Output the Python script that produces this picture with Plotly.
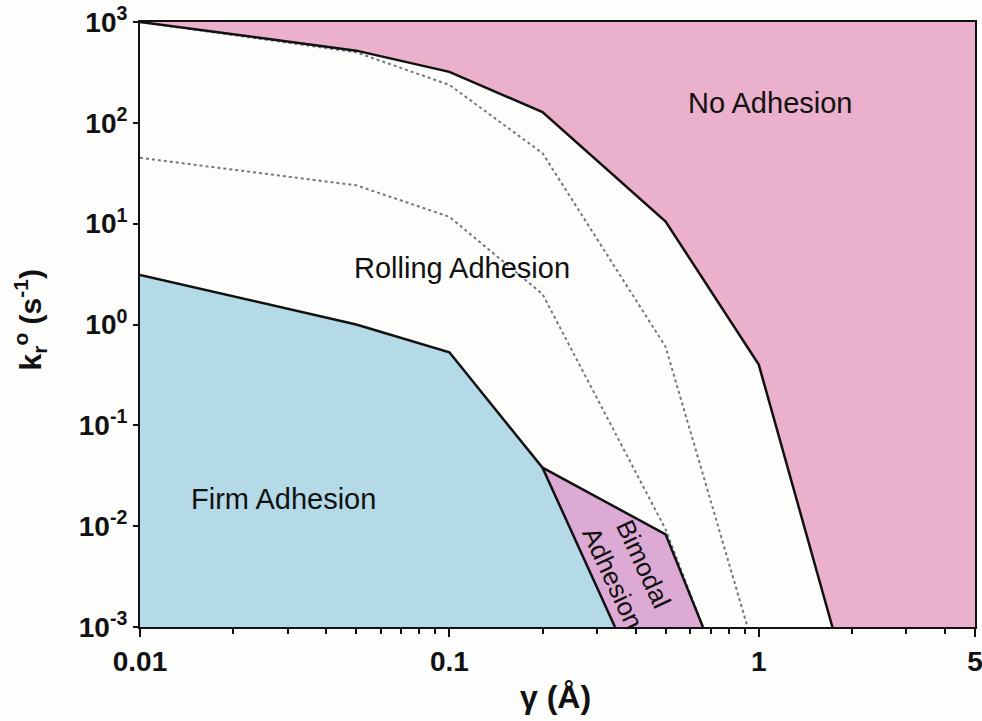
import numpy as np
import plotly.graph_objects as go

# Phase boundaries of the adhesion state diagram (gamma in Angstrom, kr0 in 1/s)
no_adh_gamma = [0.01, 0.05, 0.1, 0.2, 0.5, 1.0, 1.73]
no_adh_kr = [1000, 520, 320, 128, 10.5, 0.4, 0.001]

firm_gamma = [0.01, 0.05, 0.1, 0.2, 0.343]
firm_kr = [3.1, 1.0, 0.53, 0.038, 0.001]

bimodal_gamma = [0.2, 0.5, 0.66]
bimodal_kr = [0.038, 0.0083, 0.001]

dotted_a_gamma = [0.01, 0.05, 0.1, 0.2, 0.5, 0.92]
dotted_a_kr = [1000, 500, 238, 50, 0.6, 0.001]

dotted_b_gamma = [0.01, 0.05, 0.1, 0.2, 0.5, 0.66]
dotted_b_kr = [45, 24, 11.7, 2.0, 0.0093, 0.001]

x_range = (0.01, 5)
y_range = (1e-3, 1e3)

x_tick_vals = [0.01, 0.1, 1, 5]
x_tick_text = ["0.01", "0.1", "1", "5"]
x_minor_vals = [v * d for d in (0.01, 0.1, 1) for v in range(2, 10) if v * d < 5]
y_tick_vals = [1e-3, 1e-2, 1e-1, 1e0, 1e1, 1e2, 1e3]
y_tick_text = ["10<sup>-3</sup>", "10<sup>-2</sup>", "10<sup>-1</sup>", "10<sup>0</sup>",
               "10<sup>1</sup>", "10<sup>2</sup>", "10<sup>3</sup>"]

# Region label positions (gamma, kr0)
label_pos = {
    "No Adhesion": (1.09, 158),
    "Rolling Adhesion": (0.11, 3.66),
    "Firm Adhesion": (0.029, 0.0185),
    "Bimodal<br>Adhesion": (0.378, 0.0036),
}

PINK = "#EAB0CC"
BLUE = "#B3DAE6"
PURPLE = "#DDAAD5"
FONT = "Liberation Sans, Arial, sans-serif"

fig = go.Figure()

# No Adhesion region: above the upper boundary
fig.add_trace(go.Scatter(
    x=no_adh_gamma + [x_range[1], x_range[1]],
    y=no_adh_kr + [y_range[0], y_range[1]],
    fill="toself", fillcolor=PINK, mode="none", hoverinfo="skip", showlegend=False))

# Firm Adhesion region: below the lower boundary
fig.add_trace(go.Scatter(
    x=firm_gamma + [x_range[0]],
    y=firm_kr + [y_range[0]],
    fill="toself", fillcolor=BLUE, mode="none", hoverinfo="skip", showlegend=False))

# Bimodal Adhesion wedge
fig.add_trace(go.Scatter(
    x=bimodal_gamma + [firm_gamma[-1], firm_gamma[-2]],
    y=bimodal_kr + [firm_kr[-1], firm_kr[-2]],
    fill="toself", fillcolor=PURPLE, mode="none", hoverinfo="skip", showlegend=False))

# Dotted contours inside the rolling region
for gx, ky in ((dotted_a_gamma, dotted_a_kr), (dotted_b_gamma, dotted_b_kr)):
    fig.add_trace(go.Scatter(x=gx, y=ky, mode="lines",
                             line=dict(color="#6f7a80", width=2, dash="dot"),
                             hoverinfo="skip", showlegend=False))

# Solid boundaries
for gx, ky in ((no_adh_gamma, no_adh_kr), (firm_gamma, firm_kr), (bimodal_gamma, bimodal_kr)):
    fig.add_trace(go.Scatter(x=gx, y=ky, mode="lines",
                             line=dict(color="#111111", width=2.5),
                             hoverinfo="skip", showlegend=False))

for text, (gx, ky) in label_pos.items():
    rotated = text.startswith("Bimodal")
    fig.add_annotation(x=np.log10(gx), y=np.log10(ky), text=text, showarrow=False,
                       textangle=65 if rotated else 0,
                       font=dict(family=FONT, size=26 if rotated else 29, color="#111111"))

# Axis titles
fig.add_annotation(xref="paper", yref="paper", x=0.498, y=-0.116, yanchor="middle",
                   text="γ (Å)", showarrow=False,
                   font=dict(family=FONT, size=32, color="#111111", weight="bold"))
fig.add_annotation(xref="paper", yref="paper", x=-0.132, y=0.508, xanchor="center",
                   yanchor="middle",
                   text="k<sub>r</sub><sup>o</sup> (s<sup>-1</sup>)", showarrow=False,
                   textangle=-90,
                   font=dict(family=FONT, size=30, color="#111111", weight="bold"))

tick_font = dict(family=FONT, size=28, color="#111111", weight="bold")
fig.update_xaxes(type="log", range=[np.log10(x_range[0]), np.log10(x_range[1])],
                 tickvals=x_tick_vals, ticktext=x_tick_text, tickfont=tick_font,
                 ticklabeloverflow="allow",
                 ticks="outside", ticklen=8, tickwidth=2, tickcolor="#111111",
                 minor=dict(tickvals=x_minor_vals, ticks="outside", ticklen=5,
                            tickwidth=1.5, tickcolor="#111111"),
                 showgrid=False, zeroline=False, showline=True, linecolor="#111111",
                 linewidth=2, mirror=True, automargin=False)
fig.update_yaxes(type="log", range=[np.log10(y_range[0]), np.log10(y_range[1])],
                 tickvals=y_tick_vals, ticktext=y_tick_text, tickfont=tick_font,
                 ticklabeloverflow="allow",
                 ticks="outside", ticklen=5, tickwidth=1.5, tickcolor="#111111",
                 showgrid=False, zeroline=False, showline=True, linecolor="#111111",
                 linewidth=2, mirror=True, automargin=False)

fig.update_layout(width=982, height=721, margin=dict(l=140, r=7, t=22, b=94, autoexpand=False),
                  paper_bgcolor="#FDFDFB", plot_bgcolor="#FDFDFB",
                  font=dict(family=FONT))

# Keep the page free of scrollbars so the figure occupies the full window
page_css = ("document.documentElement.style.overflow='hidden';"
            "document.body.style.overflow='hidden';"
            "document.body.style.margin='0';")
fig.write_html("out.html", post_script=page_css)
